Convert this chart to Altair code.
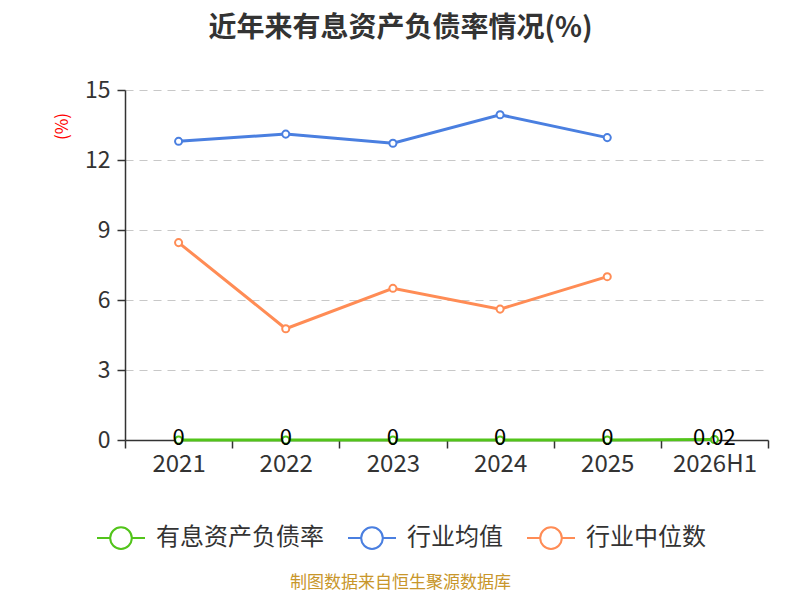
import altair as alt
import pandas as pd

years = ["2021", "2022", "2023", "2024", "2025", "2026H1"]
series_names = ["有息资产负债率", "行业均值", "行业中位数"]
debt_ratio = [0, 0, 0, 0, 0, 0.02]
industry_mean = [12.80, 13.11, 12.72, 13.94, 12.96, None]
industry_median = [8.46, 4.77, 6.50, 5.61, 7.00, None]
colors = ["#52c41a", "#4a7fe0", "#ff8c55"]
source_text = "制图数据来自恒生聚源数据库"

rows = []
for name, vals in zip(series_names, [debt_ratio, industry_mean, industry_median]):
    for y, v in zip(years, vals):
        if v is not None:
            rows.append({"year": y, "series": name, "value": v})
df = pd.DataFrame(rows)
df["label"] = df["value"].map(lambda v: f"{v:g}")

FONT = "Noto Sans CJK SC"

legend_symbol = ("M-1,0L-0.45,0M0.45,0L1,0"
                 "M-0.45,0A0.45,0.45 0 1,1 0.45,0A0.45,0.45 0 1,1 -0.45,0Z")

x_enc = alt.X("year:N", sort=years, scale=alt.Scale(domain=years, paddingInner=0, paddingOuter=0),
              axis=alt.Axis(title=source_text, titleColor="#c8962a", titleFontSize=17,
                            titleFontWeight="normal", titleFont=FONT,
                            titleX=275, titleY=142, titleAlign="center", titleBaseline="middle",
                            tickBand="extent", labelFontSize=24, labelColor="#333333",
                            labelFont=FONT, domainColor="#333333", tickColor="#333333",
                            tickSize=8, labelPadding=4, labelAngle=0, grid=False, domainWidth=1.5,
                            tickWidth=1.5))
y_enc = alt.Y("value:Q", scale=alt.Scale(domain=[0, 15], nice=False),
              axis=alt.Axis(values=[0, 3, 6, 9, 12, 15], title="(%)", titleColor="#ff0000",
                            titleFontSize=17, titleFontWeight="normal", titleFont=FONT,
                            titleX=-63, titleY=36, titleAngle=-90, titleAlign="center",
                            titleBaseline="middle",
                            labelFontSize=23, labelColor="#333333", labelFont=FONT,
                            domainColor="#333333", tickColor="#333333", tickSize=8,
                            labelPadding=7, domainWidth=1.5, tickWidth=1.5,
                            grid=True, gridColor="#c8c8c8", gridDash=[8, 6], gridWidth=1.2))

color_enc = alt.Color("series:N", sort=series_names,
                      scale=alt.Scale(domain=series_names, range=colors),
                      legend=alt.Legend(title=None, orient="none", direction="horizontal",
                                        legendX=-29, legendY=423,
                                        symbolType=legend_symbol, symbolSize=2304,
                                        symbolStrokeWidth=2, symbolFillColor="white",
                                        labelFontSize=24, labelColor="#333333", labelFont=FONT,
                                        labelLimit=400, labelOffset=10, columnPadding=20,
                                        symbolOpacity=1))

base = alt.Chart(df).encode(x=x_enc, y=y_enc, color=color_enc)

lines = base.mark_line(strokeWidth=3)
points = base.mark_point(filled=False, fill="white", fillOpacity=1, size=50, strokeWidth=2, opacity=1)
labels = alt.Chart(df[df["series"] == series_names[0]]).mark_text(
    fontSize=22, font=FONT, color="#000000", baseline="middle", dy=-2
).encode(x=alt.X("year:N", sort=years), y="value:Q", text="label:N")

chart = alt.layer(lines, points, labels).properties(
    width=643, height=350,
    background="white",
    autosize=alt.AutoSizeParams(type="none"),
    padding={"left": 117, "top": 82, "right": 24, "bottom": 152},
    title=alt.TitleParams("近年来有息资产负债率情况(%)", fontSize=28, font=FONT, fontWeight="bold",
                          color="#333333", anchor="middle", dx=-46, offset=36),
).configure_view(stroke=None)

chart.save("out.html", embed_options={"renderer": "svg", "actions": False})
